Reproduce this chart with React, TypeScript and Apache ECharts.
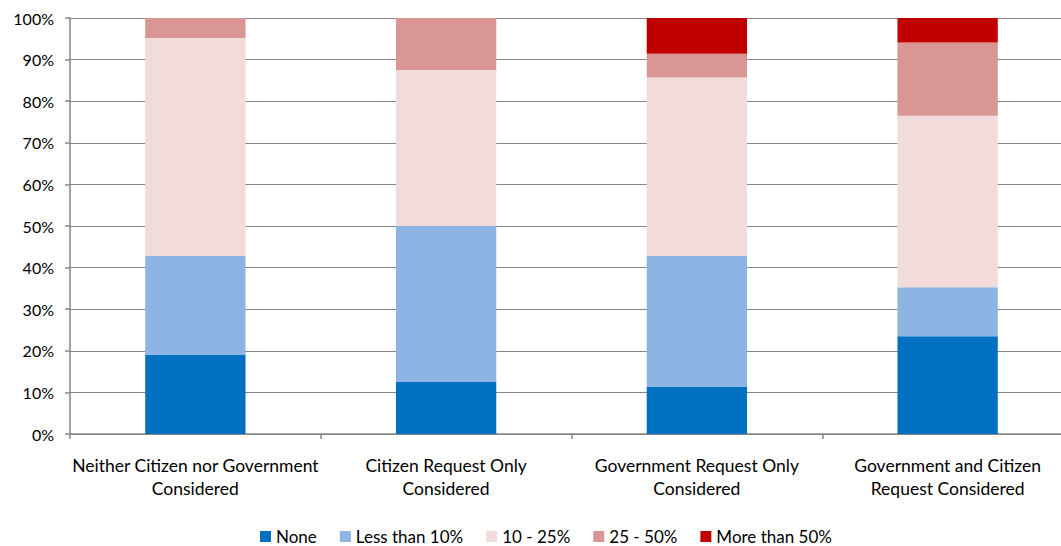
import React, { useEffect, useRef } from "react";
import * as echarts from "echarts";

const categories = [
  "Neither Citizen nor Government\nConsidered",
  "Citizen Request Only\nConsidered",
  "Government Request Only\nConsidered",
  "Government and Citizen\nRequest Considered",
];
const seriesNames = ["None", "Less than 10%", "10 - 25%", "25 - 50%", "More than 50%"];
const noneVals = [19.0, 12.5, 11.4, 23.5];
const lessThan10 = [23.8, 37.5, 31.4, 11.8];
const from10to25 = [52.4, 37.5, 42.9, 41.2];
const from25to50 = [4.8, 12.5, 5.7, 17.6];
const moreThan50 = [0, 0, 8.6, 5.9];
const colors = ["#0070C0", "#8EB4E3", "#F2DCDB", "#D99694", "#C00000"];

const FONT = "Lato, 'Open Sans', sans-serif";

export default function App() {
  const ref = useRef<HTMLDivElement>(null);
  useEffect(() => {
    if (!ref.current) return;
    const chart = echarts.init(ref.current, null, { renderer: "svg" });
    const values = [noneVals, lessThan10, from10to25, from25to50, moreThan50];
    chart.setOption({
      animation: false,
      color: colors,
      textStyle: { fontFamily: FONT },
      grid: { left: 70, top: 18, bottom: 112, right: 0 },
      legend: {
        top: 528,
        left: 260,
        padding: 0,
        itemWidth: 11,
        itemHeight: 11,
        itemGap: 23,
        icon: "rect",
        textStyle: { fontSize: 17, color: "#000", fontFamily: FONT },
        data: seriesNames,
      },
      xAxis: {
        type: "category",
        data: categories,
        axisLine: { lineStyle: { color: "#868686", width: 1.5 } },
        axisTick: { show: true, length: 5, lineStyle: { color: "#868686", width: 1.5 } },
        axisLabel: {
          interval: 0,
          fontSize: 17.5,
          color: "#000",
          lineHeight: 23,
          margin: 20,
          fontFamily: FONT,
        },
      },
      yAxis: {
        type: "value",
        min: 0,
        max: 100,
        interval: 10,
        axisLine: { show: true, lineStyle: { color: "#868686", width: 1.5 } },
        axisTick: { show: true, length: 5, lineStyle: { color: "#868686", width: 1.5 } },
        splitLine: { lineStyle: { color: "#868686", width: 1 } },
        axisLabel: { formatter: "{value}%", fontSize: 16, color: "#000", margin: 16, fontFamily: FONT },
      },
      series: seriesNames.map((name, i) => ({
        name,
        type: "bar",
        stack: "total",
        barWidth: "40%",
        data: values[i],
        itemStyle: { color: colors[i] },
      })),
    });
    return () => chart.dispose();
  }, []);
  return (
    <div style={{ position: "absolute", left: 0, top: 0, width: 1061, height: 546, overflow: "hidden" }}>
      <div ref={ref} style={{ width: 1073, height: 546 }} />
    </div>
  );
}
